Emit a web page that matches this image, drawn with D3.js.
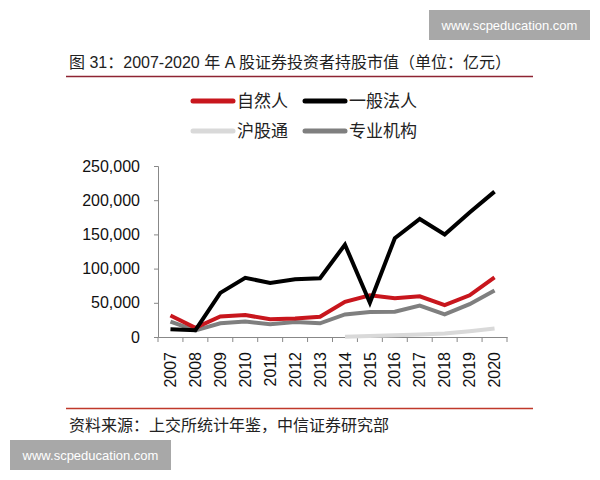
<!DOCTYPE html>
<html>
<head>
<meta charset="utf-8">
<script src="https://cdn.jsdelivr.net/npm/d3@7"></script>
<style>
  body { margin: 0; background: #fff; }
  text { font-family: "Liberation Sans", Arial, "Noto Sans CJK SC", sans-serif; }
  .cjk { font-family: "Liberation Sans", "Noto Sans CJK SC", sans-serif; }
</style>
</head>
<body>
<div id="viz"></div>
<script>
// values (unit: 亿元)
var years = ["2007","2008","2009","2010","2011","2012","2013","2014","2015","2016","2017","2018","2019","2020"];
var natural = [31500, 13500, 30000, 32000, 26000, 27000, 29500, 51500, 61000, 56500, 59500, 46500, 61000, 87000];
var corporate = [11500, 10000, 64500, 86500, 79000, 84500, 86000, 135000, 50000, 144500, 172500, 150000, 182000, 212500];
var hkconnect = [null, null, null, null, null, null, null, 500, 1500, 2500, 3500, 5000, 8500, 12500];
var institution = [22500, 9500, 20000, 22500, 18500, 22000, 20000, 33000, 36500, 37000, 46000, 33000, 48000, 68000];
var yTicks = [0, 50000, 100000, 150000, 200000, 250000];

var series = [
  { name: "自然人", values: natural, color: "#c8161d" },
  { name: "一般法人", values: corporate, color: "#000000" },
  { name: "沪股通", values: hkconnect, color: "#d9d9d9" },
  { name: "专业机构", values: institution, color: "#7f7f7f" }
];

var W = 600, H = 480;
var plotLeft = 158, plotRight = 507, plotTop = 166, plotBottom = 337;

var svg = d3.select("#viz").append("svg")
    .attr("width", W).attr("height", H);

// title + rules
svg.append("text").attr("class", "cjk")
    .attr("x", 69).attr("y", 68)
    .attr("font-size", 16).attr("fill", "#222")
    .text("图 31：2007-2020 年 A 股证券投资者持股市值（单位：亿元）");
svg.append("line").attr("x1", 66).attr("x2", 533).attr("y1", 76.5).attr("y2", 76.5)
    .attr("stroke", "#8e2433").attr("stroke-width", 1.5);
svg.append("line").attr("x1", 66).attr("x2", 533).attr("y1", 408.5).attr("y2", 408.5)
    .attr("stroke", "#c0392b").attr("stroke-width", 1.5);
svg.append("text").attr("class", "cjk")
    .attr("x", 69).attr("y", 431)
    .attr("font-size", 16).attr("fill", "#222")
    .text("资料来源：上交所统计年鉴，中信证券研究部");

// legend
var legend = svg.append("g");
series.forEach(function(s, i) {
    var lx = 193 + (i % 2) * 112, ly = 101 + Math.floor(i / 2) * 30;
    legend.append("line").attr("x1", lx).attr("x2", lx + 40).attr("y1", ly).attr("y2", ly)
        .attr("stroke", s.color).attr("stroke-width", 5).attr("stroke-linecap", "round");
    legend.append("text").attr("class", "cjk")
        .attr("x", lx + 44).attr("y", ly + 6)
        .attr("font-size", 17).attr("fill", "#222")
        .text(s.name);
});

// scales
var x = d3.scaleBand().domain(years).range([plotLeft, plotRight]);
var y = d3.scaleLinear().domain([0, 250000]).range([plotBottom, plotTop]);

// y axis
var yAxis = svg.append("g").attr("transform", "translate(" + plotLeft + ",0)")
    .call(d3.axisLeft(y).tickValues(yTicks).tickSize(4).tickPadding(14)
        .tickFormat(d3.format(",")));
yAxis.selectAll("text").attr("font-size", 16).attr("fill", "#111")
    .attr("font-family", "Liberation Sans, Arial, sans-serif");
yAxis.selectAll("line, path").attr("stroke", "#888");

// x axis
var xAxis = svg.append("g").attr("transform", "translate(0," + plotBottom + ")")
    .call(d3.axisBottom(x).tickSize(0).tickSizeOuter(0));
xAxis.select("path").attr("stroke", "#888");
xAxis.selectAll("text")
    .attr("font-size", 16).attr("fill", "#111")
    .attr("font-family", "Liberation Sans, Arial, sans-serif")
    .attr("transform", "rotate(-90)")
    .attr("text-anchor", "end")
    .attr("x", -15).attr("y", 0).attr("dy", "0.35em");
svg.append("g").selectAll("line")
    .data(years.concat(["end"]))
    .join("line")
    .attr("x1", function(d, i) { return plotLeft + i * x.bandwidth(); })
    .attr("x2", function(d, i) { return plotLeft + i * x.bandwidth(); })
    .attr("y1", plotBottom).attr("y2", plotBottom + 5)
    .attr("stroke", "#888");

// lines
var line = d3.line()
    .defined(function(d) { return d != null; })
    .x(function(d, i) { return x(years[i]) + x.bandwidth() / 2; })
    .y(function(d) { return y(d); });

[2, 3, 0, 1].forEach(function(k) {
    var s = series[k];
    svg.append("path")
        .attr("d", line(s.values))
        .attr("fill", "none")
        .attr("stroke", s.color)
        .attr("stroke-width", 4)
        .attr("stroke-linejoin", "miter");
});

// watermarks
function watermark(x0, y0, w, h, fs) {
    svg.append("rect").attr("x", x0).attr("y", y0).attr("width", w).attr("height", h)
        .attr("fill", "#a8a8a8");
    svg.append("text").attr("x", x0 + w / 2).attr("y", y0 + h / 2 + fs * 0.35)
        .attr("text-anchor", "middle").attr("font-size", fs).attr("fill", "#fff")
        .attr("font-family", "DejaVu Sans, sans-serif")
        .text("www.scpeducation.com");
}
watermark(429, 10, 161, 30, 13);
watermark(10, 440, 161, 30, 13);
</script>
</body>
</html>
